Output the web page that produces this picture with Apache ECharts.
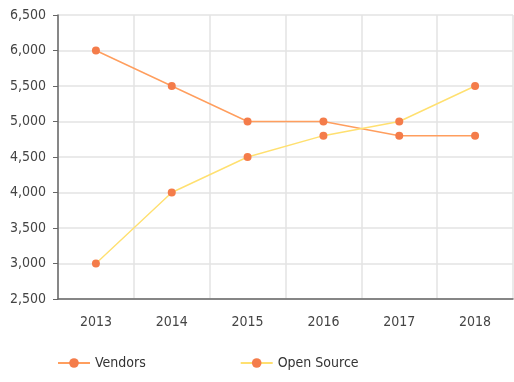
<!DOCTYPE html>
<html><head><meta charset="utf-8">
<script src="https://cdn.jsdelivr.net/npm/echarts@6/dist/echarts.min.js"></script>
<style>html,body{margin:0;padding:0;background:#fff}#c{width:514px;height:382px}</style>
</head><body><div id="c"></div>
<script>
const categories = ['2013','2014','2015','2016','2017','2018'];
const vendors = [6000, 5500, 5000, 5000, 4800, 4800];
const openSource = [3000, 4000, 4500, 4800, 5000, 5500];
const yTicks = [2500, 3000, 3500, 4000, 4500, 5000, 5500, 6000, 6500];

const FONT = '"DejaVu Sans Condensed", "Liberation Sans Narrow", sans-serif';
const chart = echarts.init(document.getElementById('c'), null, {renderer:'canvas'});
chart.setOption({
  animation: false,
  textStyle: {fontFamily: FONT},
  grid: {left: 58, right: 1, top: 15, bottom: 83, containLabel: false},
  legend: {
    left: 52, top: 351, itemWidth: 32, itemHeight: 12, itemGap: 94,
    textStyle: {fontFamily: FONT, fontSize: 14, color: '#333'},
    data: ['Vendors', 'Open Source']
  },
  xAxis: {
    type: 'category', data: categories, boundaryGap: true,
    axisLine: {lineStyle: {color: '#666', width: 1.5}},
    axisTick: {alignWithLabel: true, length: 5, lineStyle: {color: '#666'}},
    axisLabel: {fontFamily: FONT, fontSize: 14, color: '#444', margin: 16},
    splitLine: {show: true, lineStyle: {color: '#e3e3e3', width: 1.5}}
  },
  yAxis: {
    type: 'value', min: yTicks[0], max: yTicks[yTicks.length-1], interval: 500,
    axisLine: {show: true, lineStyle: {color: '#666', width: 1.5}},
    axisTick: {show: true, length: 5, lineStyle: {color: '#666'}},
    axisLabel: {fontFamily: FONT, fontSize: 14, color: '#444', margin: 12,
      formatter: v => v.toLocaleString('en-US')},
    splitLine: {show: true, lineStyle: {color: '#e3e3e3', width: 1.5}}
  },
  series: [
    {name: 'Vendors', type: 'line', data: vendors, symbol: 'circle', symbolSize: 8,
     lineStyle: {color: '#FF9E5E', width: 1.4},
     itemStyle: {color: '#F47C4A', borderWidth: 0}},
    {name: 'Open Source', type: 'line', data: openSource, symbol: 'circle', symbolSize: 8,
     lineStyle: {color: '#FFE070', width: 1.4},
     itemStyle: {color: '#F47C4A', borderWidth: 0}}
  ]
});
</script></body></html>
